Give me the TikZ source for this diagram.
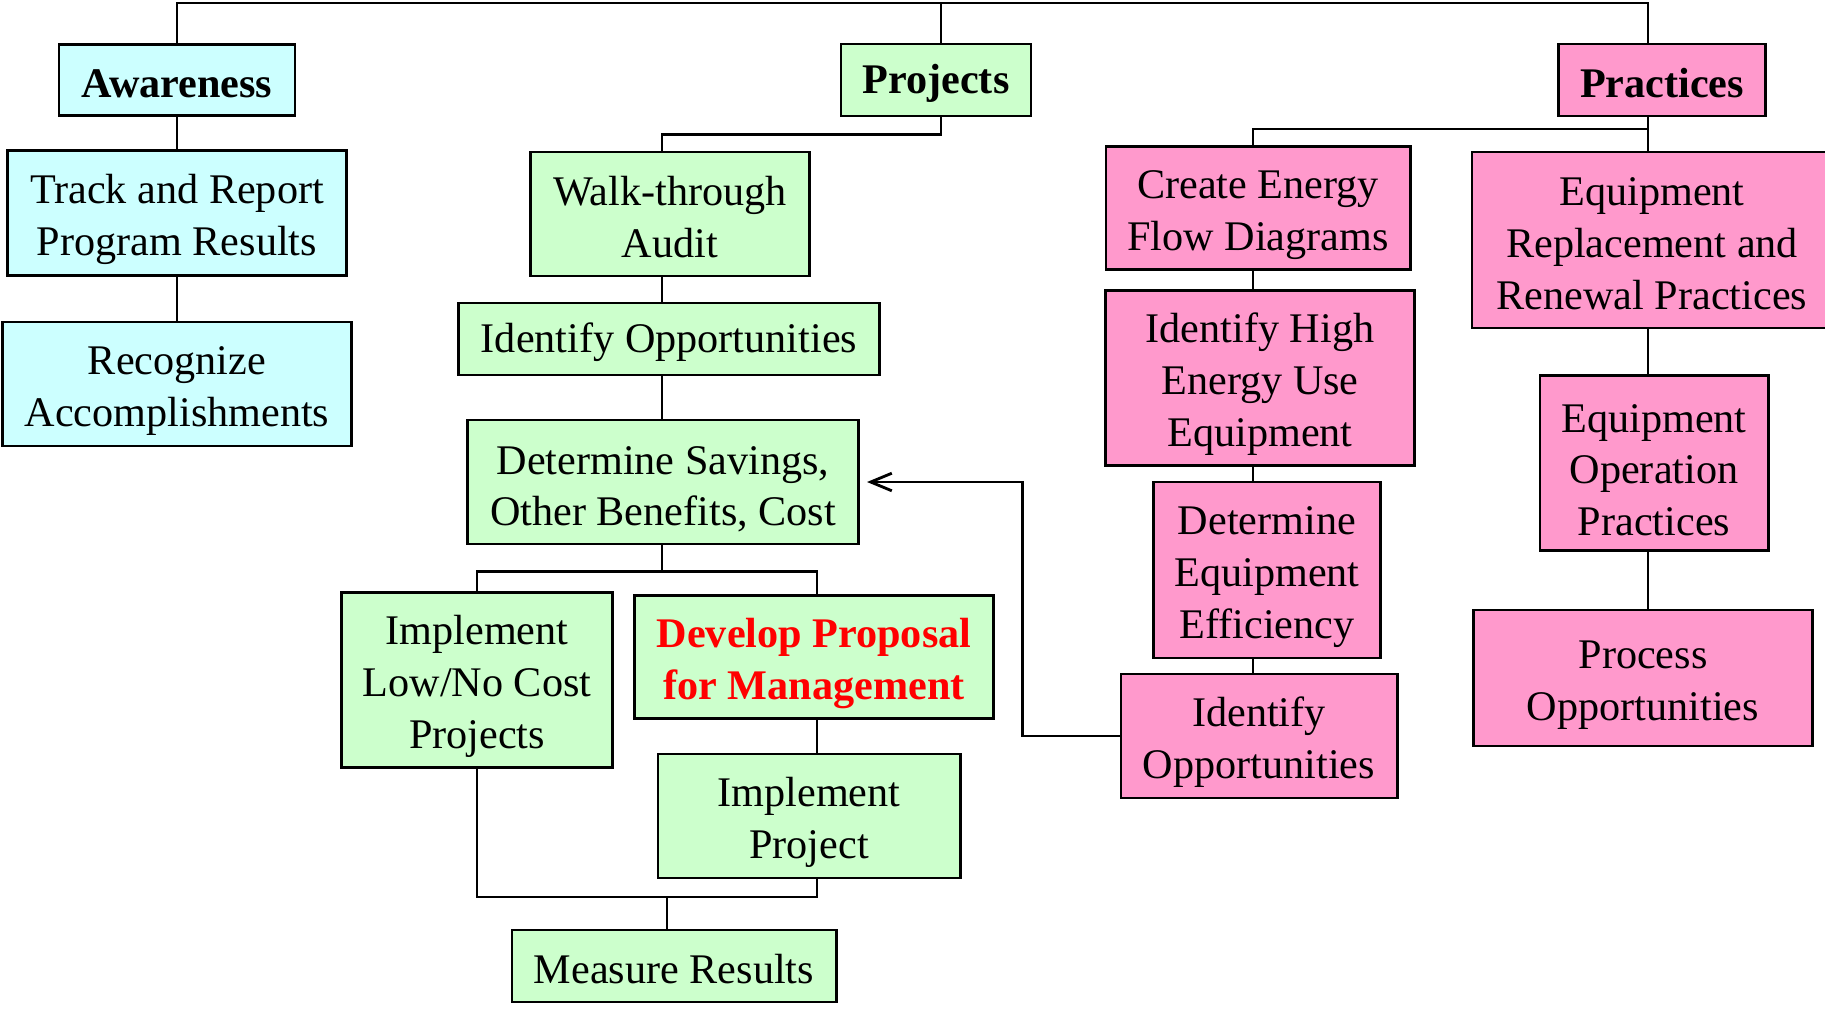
\documentclass[tikz,border=0pt]{standalone}
\usepackage{fontspec}
\setmainfont{Liberation Serif}
\usetikzlibrary{arrows,arrows.meta,positioning,calc}

\definecolor{awarefill}{HTML}{CCFFFF}
\definecolor{projfill}{HTML}{CCFFCC}
\definecolor{pracfill}{HTML}{FF99CC}

% struts that push the text a little lower in its box
\newcommand{\topstrut}{\rule{0pt}{12pt}}
\newcommand{\onestrut}{\rule{0pt}{10pt}}

\tikzset{
	box/.style={draw, line width=0.8pt, inner sep=0pt, align=center, font=\fontsize{12}{14.7}\selectfont},
	aware/.style={box, fill=awarefill},
	proj/.style={box, fill=projfill},
	prac/.style={box, fill=pracfill},
	head/.style={font=\fontsize{12}{14.7}\selectfont\bfseries},
	link/.style={line width=0.8pt},
}

\begin{document}
\begin{tikzpicture}[x=0.01cm, y=-0.01cm]
	\useasboundingbox (0,0) rectangle (1825,1009);
	% awareness column
	\node[aware, head, minimum width=2.36cm, minimum height=0.71cm] (awareness)	at (177, 80)	{\onestrut Awareness};
	\node[aware, minimum width=3.39cm, minimum height=1.25cm] (track)		at (177, 213)	{\topstrut Track and Report\\Program Results};
	\node[aware, minimum width=3.48cm, minimum height=1.24cm] (recognize)	at (177, 384)	{\topstrut Recognize\\Accomplishments};
	% projects column
	\node[proj, head, minimum width=1.9cm, minimum height=0.72cm] (projects)	at (936, 80)	{\onestrut Projects};
	\node[proj, minimum width=2.79cm, minimum height=1.24cm] (walkthrough)	at (670, 214)	{\onestrut Walk-through\\Audit};
	\node[proj, minimum width=4.21cm, minimum height=0.72cm] (gidentify)	at (669, 339)	{\onestrut Identify Opportunities};
	\node[proj, minimum width=3.91cm, minimum height=1.24cm] (savings)	at (663, 482)	{\topstrut Determine Savings,\\Other Benefits, Cost};
	\node[proj, minimum width=2.71cm, minimum height=1.75cm] (lowcost)	at (477, 680)	{\topstrut Implement\\Low/No Cost\\Projects};
	\node[proj, head, text=red, minimum width=3.59cm, minimum height=1.23cm] (proposal)	at (814, 657)	{\topstrut Develop Proposal\\for Management};
	\node[proj, minimum width=3.02cm, minimum height=1.24cm] (implproj)	at (809, 816)	{\topstrut Implement\\Project};
	\node[proj, minimum width=3.24cm, minimum height=0.72cm] (measure)	at (674, 966)	{\onestrut Measure Results};
	% practices columns
	\node[prac, head, minimum width=2.07cm, minimum height=0.72cm] (practices)	at (1662, 80)	{\onestrut Practices};
	\node[prac, minimum width=3.04cm, minimum height=1.23cm] (flowdiag)	at (1258, 208)	{\topstrut Create Energy\\Flow Diagrams};
	\node[prac, minimum width=3.09cm, minimum height=1.75cm] (highuse)	at (1260, 378)	{\topstrut Identify High\\Energy Use\\Equipment};
	\node[prac, minimum width=2.27cm, minimum height=1.76cm] (efficiency)	at (1267, 570)	{\topstrut Determine\\Equipment\\Efficiency};
	\node[prac, minimum width=2.76cm, minimum height=1.24cm] (pidentify)	at (1259, 736)	{\topstrut Identify\\Opportunities};
	\node[prac, minimum width=3.6cm, minimum height=1.76cm] (replacement)	at (1652, 240)	{\onestrut Equipment\\Replacement and\\Renewal Practices};
	\node[prac, minimum width=2.28cm, minimum height=1.75cm] (operation)	at (1654, 463)	{\topstrut Equipment\\Operation\\Practices};
	\node[prac, minimum width=3.39cm, minimum height=1.36cm] (process)	at (1643, 678)	{\topstrut Process\\Opportunities};
	\coordinate (topbar)	at (941, 3);
	\coordinate (gcol)	at (662, 0);
	\coordinate (dcol)	at (817, 0);
	\coordinate (ccol)	at (1253, 0);
	\coordinate (rcol)	at (1648, 0);
	\coordinate (pbranch)	at (1648, 129);
	\coordinate (merge)	at (667, 897);
	% connectors
	\draw[link] (awareness.north) |- (topbar) -| (practices.north -| rcol);
	\draw[link] (topbar) -- (projects.north -| topbar);
	\draw[link] (awareness) -- (track);
	\draw[link] (track) -- (recognize);
	\draw[link] (projects.south -| topbar) -- ++(0,17) -| (walkthrough.north -| gcol);
	\draw[link] (walkthrough.south -| gcol) -- (gidentify.north -| gcol);
	\draw[link] (gidentify.south -| gcol) -- (savings.north -| gcol);
	\draw[link] (savings.south -| gcol) -- ++(0,26) coordinate (sbranch);
	\draw[link] (lowcost.north) |- (sbranch) -| (proposal.north -| dcol);
	\draw[link] (proposal.south -| dcol) -- (implproj.north -| dcol);
	\draw[link] (lowcost.south) |- (merge) -| (implproj.south -| dcol);
	\draw[link] (merge) -- (measure.north -| merge);
	\draw[link, -{Straight Barb[length=6pt, width=5pt]}, shorten >=2pt] (pidentify.west) -- ++(-97,0) |- (savings.east);
	\draw[link] (practices.south -| rcol) -- (replacement.north -| rcol);
	\draw[link] (pbranch) -| (flowdiag.north -| ccol);
	\draw[link] (flowdiag.south -| ccol) -- (highuse.north -| ccol);
	\draw[link] (highuse.south -| ccol) -- (efficiency.north -| ccol);
	\draw[link] (efficiency.south -| ccol) -- (pidentify.north -| ccol);
	\draw[link] (replacement.south -| rcol) -- (operation.north -| rcol);
	\draw[link] (operation.south -| rcol) -- (process.north -| rcol);
\end{tikzpicture}
\end{document}
